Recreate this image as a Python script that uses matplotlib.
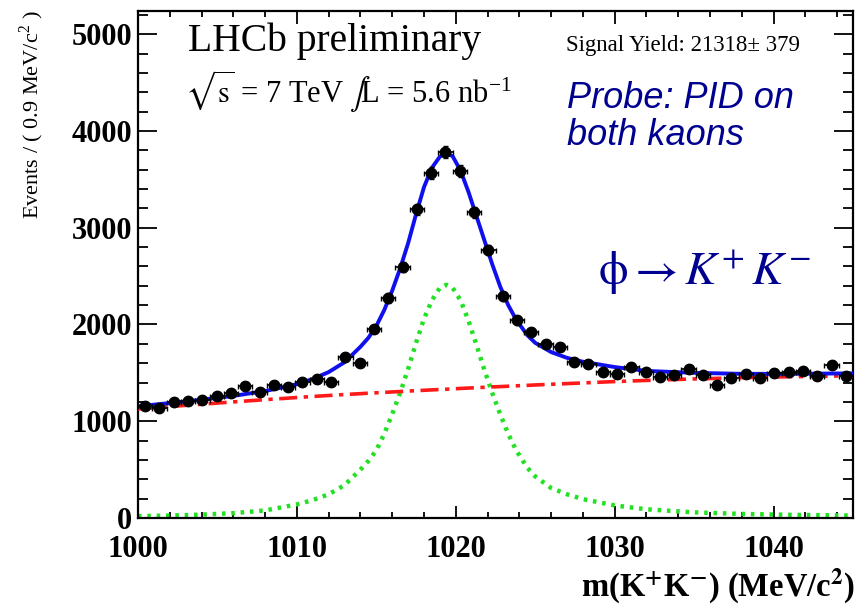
import numpy as np
import matplotlib
matplotlib.use("Agg")
import matplotlib.pyplot as plt
from matplotlib.ticker import MultipleLocator

# ---------------- data ----------------
bin_width = 0.9
mass_lo = 1000.0
counts = [1157, 1136, 1198, 1209, 1219, 1260, 1291, 1364, 1302, 1374,
          1353, 1405, 1436, 1405, 1663, 1601, 1952, 2273, 2593, 3192,
          3564, 3781, 3585, 3161, 2769, 2293, 2045, 1921, 1798, 1767,
          1612, 1591, 1508, 1488, 1560, 1508, 1457, 1477, 1539, 1477,
          1374, 1446, 1488, 1446, 1498, 1508, 1519, 1467, 1581, 1467]

curve_mass = [1000, 1002, 1004, 1006, 1008, 1010, 1011, 1012, 1013, 1014,
              1014.5, 1015, 1015.5, 1016, 1016.5, 1017, 1017.5, 1018, 1018.5, 1019,
              1019.4, 1019.8, 1020.3, 1020.8, 1021.3, 1021.8, 1022.3, 1022.8, 1023.3, 1023.8,
              1024.5, 1025, 1026, 1027, 1028, 1030, 1032, 1035, 1038, 1041, 1045]
total_fit = [1155, 1188, 1222, 1262, 1312, 1383, 1437, 1508, 1610, 1770,
             1862, 1985, 2150, 2350, 2580, 2840, 3140, 3420, 3620, 3735,
             3770, 3740, 3590, 3370, 3120, 2870, 2620, 2390, 2200, 2050,
             1890, 1810, 1715, 1655, 1615, 1560, 1520, 1500, 1490, 1490, 1495]
background = [1128, 1152, 1176, 1200, 1223, 1245, 1256, 1266, 1276, 1285,
              1290, 1294, 1298, 1303, 1307, 1312, 1316, 1320, 1324, 1328,
              1331, 1335, 1339, 1343, 1347, 1351, 1355, 1358, 1362, 1366,
              1371, 1375, 1382, 1389, 1396, 1410, 1422, 1437, 1450, 1460, 1470]
signal = [20, 25, 35, 50, 78, 140, 185, 245, 340, 500,
          590, 700, 870, 1075, 1295, 1540, 1810, 2060, 2250, 2380,
          2410, 2380, 2250, 2040, 1790, 1530, 1290, 1070, 870, 700,
          520, 430, 310, 245, 195, 130, 90, 58, 42, 33, 25]

x_ticks = [1000, 1010, 1020, 1030, 1040]
y_ticks = [0, 1000, 2000, 3000, 4000, 5000]

# ---------------- figure ----------------
W, H = 859, 607
fig = plt.figure(figsize=(W / 100, H / 100), dpi=100)
serif = ["Liberation Serif", "DejaVu Serif"]
plt.rcParams["font.family"] = serif
plt.rcParams["mathtext.fontset"] = "stix"

ax = fig.add_axes([138 / W, 89 / H, 715 / W, 507 / H])

def px(x, y):
    return x / W, 1 - y / H

centers = mass_lo + bin_width * (np.arange(len(counts)) + 0.5)
counts_arr = np.array(counts, dtype=float)

ax.plot(curve_mass, signal, color="#22e022", lw=3.2, ls=(0, (0.8, 1.3)),
        dash_capstyle="butt", zorder=2)
ax.plot(curve_mass, background, color="#ff1a1a", lw=2.6,
        ls=(0, (5, 1.8, 1.2, 1.8)), zorder=3)
ax.plot(curve_mass, total_fit, color="#1010ee", lw=2.8, zorder=4)
ax.errorbar(centers, counts_arr, xerr=bin_width / 2, yerr=np.sqrt(counts_arr),
            fmt="o", color="black", ms=7.5, elinewidth=1.2, capsize=1.8,
            capthick=1.0, zorder=5)

ax.set_xlim(1000, 1045)
ax.set_ylim(0, 5240)
ax.set_xticks(x_ticks)
ax.set_yticks(y_ticks)
ax.xaxis.set_minor_locator(MultipleLocator(2))
ax.yaxis.set_minor_locator(MultipleLocator(200))
ax.tick_params(which="both", direction="in", top=True, right=True, width=1.3)
ax.tick_params(axis="x", which="major", length=9, pad=12)
ax.tick_params(axis="x", which="minor", length=4.5)
ax.tick_params(axis="y", which="major", length=14, pad=4)
ax.tick_params(axis="y", which="minor", length=7)
for lab in ax.get_xticklabels() + ax.get_yticklabels():
    lab.set_fontsize(22)
    lab.set_fontweight("bold")
for s in ax.spines.values():
    s.set_linewidth(1.6)

# ---------------- texts ----------------
fig.text(*px(188, 51), "LHCb preliminary", fontsize=28.5, va="baseline", ha="left")
fig.text(*px(185, 103),
         r"$\sqrt{\mathrm{s}}$ = 7 TeV $\int\!$L = 5.6 nb$^{\mathregular{-1}}$",
         fontsize=22, va="baseline", ha="left")
fig.text(*px(566, 51), "Signal Yield: 21318\u00b1 379", fontsize=16.5,
         va="baseline", ha="left")
navy = "#000090"
fig.text(*px(567, 108), "Probe: PID on", fontsize=26, style="italic",
         family=["Liberation Sans", "DejaVu Sans"], color=navy, va="baseline")
fig.text(*px(567, 145), "both kaons", fontsize=26, style="italic",
         family=["Liberation Sans", "DejaVu Sans"], color=navy, va="baseline")
fig.text(*px(598, 285), r"$\mathrm{\phi} \rightarrow K^{+}\,K^{-}$", fontsize=34,
         color=navy, va="baseline", ha="left")

fig.text(*px(32, 10), "Events / ( 0.9 MeV/c$^{\\mathregular{2}}$ )", fontsize=16,
         rotation=90, ha="center", va="top")
fig.text(*px(855, 597), "m(K$^{\\mathbf{+}}$K$^{\\mathbf{-}}$) (MeV/c$^{\\mathbf{2}}$)",
         fontsize=23.5, fontweight="bold", ha="right", va="baseline")

fig.savefig("out.png", dpi=100)
